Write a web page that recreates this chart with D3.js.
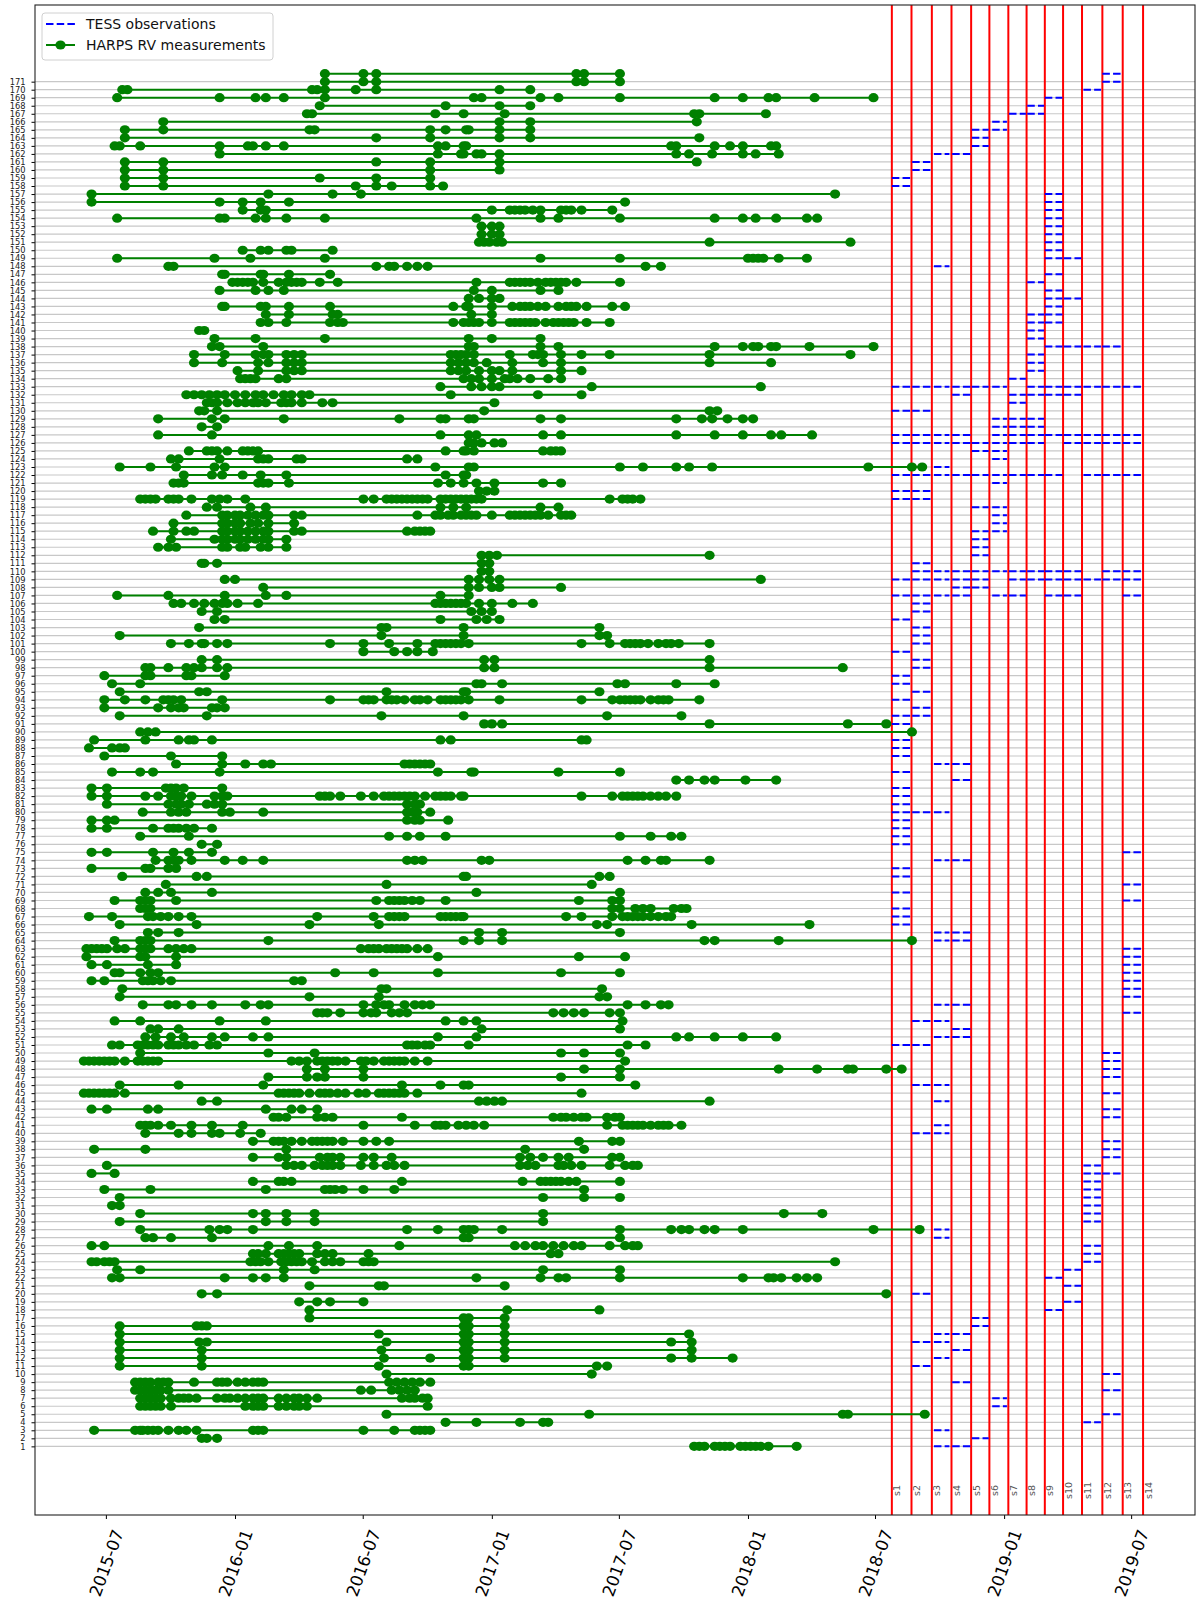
<!DOCTYPE html>
<html>
<head>
<meta charset="utf-8">
<script src="https://cdn.jsdelivr.net/npm/d3@7"></script>
<style>
  body { margin: 0; background: #fff; }
  svg { display: block; }
  text { font-family: "DejaVu Sans", sans-serif; }
</style>
</head>
<body>
<div id="chart"></div>
<script>
// HARPS RV epochs per target (index 0 = target 1), decimal year minus 2000
const rvEpochs = [
  [17.79,17.81,17.83,17.87,17.89,17.91,17.93,17.97,17.99,18.01,18.03,18.05,18.08,18.19],
  [15.87,15.89,15.93],
  [15.45,15.61,15.63,15.64,15.66,15.68,15.70,15.74,15.78,15.81,15.85,16.07,16.09,16.11,16.50,16.62,16.70,16.72,16.74,16.76],
  [16.82,16.94,17.11,17.20,17.22],
  [16.59,17.38,18.37,18.39,18.69],
  [15.63,15.65,15.67,15.69,15.71,15.75,16.04,16.07,16.09,16.11,16.17,16.20,16.23,16.25,16.28,16.75],
  [15.63,15.65,15.67,15.69,15.71,15.75,15.78,15.80,15.82,15.85,15.93,15.96,15.98,16.01,16.04,16.07,16.09,16.11,16.17,16.20,16.23,16.25,16.28,16.32,16.65,16.68,16.70,16.73,16.75],
  [15.61,15.63,15.65,15.67,15.69,15.71,15.74,16.49,16.53,16.61,16.64,16.67,16.70],
  [15.61,15.63,15.65,15.67,15.70,15.72,15.74,15.84,15.93,15.95,15.97,16.01,16.04,16.07,16.09,16.11,16.60,16.63,16.66,16.69,16.72,16.76],
  [16.59,17.39],
  [15.55,15.87,16.56,16.89,16.91,17.41,17.45],
  [15.55,15.87,16.58,16.76,16.89,16.91,17.05,17.70,17.78,17.94],
  [15.55,15.87,16.57,16.89,16.91,17.05,17.78],
  [15.55,15.86,15.89,16.59,16.89,16.91,17.05,17.70,17.78],
  [15.55,16.56,16.89,16.91,17.05,17.77],
  [15.55,15.85,15.87,15.89,16.89,16.91,17.05],
  [16.29,16.89,16.91,17.05],
  [16.29,17.06,17.42],
  [16.25,16.32,16.37,16.50],
  [15.87,15.93,18.54],
  [16.29,16.56,16.58,17.05],
  [15.52,15.55,15.96,16.07,16.12,16.19,16.94,17.19,17.26,17.29,17.50,17.98,18.08,18.10,18.13,18.19,18.23,18.27],
  [15.54,15.63,16.19,16.31,17.20,17.50],
  [15.44,15.46,15.49,15.51,15.53,16.06,16.08,16.10,16.13,16.18,16.20,16.22,16.24,16.26,16.30,16.35,16.38,16.41,16.50,16.52,16.54,18.34],
  [16.07,16.09,16.12,16.17,16.19,16.21,16.23,16.25,16.32,16.35,16.38,16.52,17.23,17.26],
  [15.44,15.49,16.13,16.21,16.32,16.64,17.09,17.13,17.17,17.20,17.24,17.28,17.32,17.35,17.46,17.52,17.55,17.57],
  [15.65,15.68,15.75,15.91,16.89,16.91,17.50],
  [15.63,15.90,15.94,15.97,16.07,16.67,16.79,16.89,16.91,16.93,17.04,17.50,17.70,17.74,17.77,17.83,17.87,17.98,18.49,18.67],
  [15.55,16.12,16.20,16.31,17.20],
  [15.63,16.07,16.12,16.20,16.31,17.20,18.14,18.29],
  [15.52,15.55],
  [15.55,17.20,17.36,17.50],
  [15.49,15.67,16.12,16.35,16.37,16.39,16.42,16.50,16.62,17.36],
  [16.07,16.17,16.19,16.22,16.65,17.12,17.19,17.21,17.23,17.25,17.27,17.30,17.33,17.50],
  [15.44,15.53],
  [15.50,16.20,16.23,16.26,16.31,16.34,16.36,16.38,16.41,16.49,16.54,16.59,16.62,16.66,17.11,17.14,17.17,17.26,17.28,17.31,17.35,17.46,17.52,17.55,17.57],
  [16.07,16.17,16.20,16.33,16.36,16.38,16.41,16.50,16.54,16.61,17.11,17.15,17.20,17.26,17.30,17.47,17.50],
  [15.45,15.65,16.20,17.13,17.36],
  [16.07,16.15,16.17,16.19,16.22,16.26,16.30,16.32,16.34,16.36,16.38,16.42,16.50,16.55,16.60,17.34,17.47,17.50],
  [15.65,15.78,15.83,15.91,15.94,16.02,16.10],
  [15.63,15.65,15.67,15.70,15.75,15.83,15.91,16.03,16.50,16.70,16.78,16.80,16.82,16.87,16.90,16.93,16.97,17.45,17.51,17.53,17.55,17.57,17.59,17.62,17.65,17.67,17.69,17.74],
  [16.15,16.17,16.20,16.32,16.35,16.38,16.65,17.24,17.27,17.29,17.32,17.35,17.37,17.45,17.48,17.50],
  [15.44,15.50,15.66,15.70,16.12,16.22,16.26,16.32],
  [15.87,15.93,16.95,16.98,17.01,17.04,17.85],
  [15.41,15.43,15.45,15.47,15.49,15.51,15.53,15.57,16.17,16.19,16.21,16.23,16.25,16.29,16.33,16.35,16.37,16.40,16.43,16.48,16.51,16.56,16.58,16.60,16.62,16.64,16.66,16.71,17.35],
  [15.55,15.78,16.11,16.65,16.80,16.89,16.91,17.56],
  [16.13,16.28,16.32,16.35,16.50,17.27,17.50],
  [16.28,16.35,16.50,17.36,17.50,18.12,18.27,18.39,18.41,18.54,18.60],
  [15.41,15.43,15.45,15.47,15.49,15.51,15.53,15.57,15.62,15.64,15.66,15.68,15.70,16.22,16.25,16.28,16.32,16.34,16.36,16.38,16.40,16.43,16.49,16.51,16.54,16.58,16.60,16.62,16.64,16.66,16.70,16.75,17.52],
  [15.63,16.13,16.31,17.27,17.36,17.50],
  [15.52,15.55,15.62,15.64,15.66,15.68,15.70,15.74,15.76,15.78,15.81,15.84,15.90,15.93,16.67,16.69,16.71,16.74,16.76,16.91,17.53,17.60],
  [15.65,15.69,15.75,15.80,15.91,15.96,16.07,16.13,16.79,16.94,17.72,17.77,17.87,17.98,18.11],
  [15.67,15.70,15.78,16.96,17.50],
  [15.53,15.63,15.94,16.12,16.82,16.89,16.94,17.51],
  [16.32,16.34,16.36,16.41,16.50,16.53,16.55,16.61,16.64,16.67,17.24,17.28,17.32,17.36,17.46,17.50],
  [15.64,15.74,15.77,15.83,15.91,16.04,16.10,16.13,16.50,16.55,16.58,16.60,16.66,16.70,16.73,16.76,17.53,17.60,17.66,17.69],
  [15.55,16.29,16.56,17.42,17.45],
  [15.56,16.57,16.59,17.43],
  [15.44,15.49,15.64,15.66,15.68,15.71,15.75,16.23,16.26],
  [15.53,15.55,15.63,15.67,15.70,16.39,16.54,16.79,17.27,17.50],
  [15.44,15.50,15.66,15.77],
  [15.42,15.63,15.65,15.77,16.79,17.34,17.52],
  [15.42,15.44,15.46,15.48,15.50,15.54,15.57,15.63,15.65,15.67,15.74,15.77,15.80,15.83,16.49,16.52,16.54,16.56,16.59,16.61,16.63,16.65,16.67,16.71,16.75],
  [15.53,15.63,15.65,15.67,16.13,16.89,16.95,17.04,17.83,17.87,18.12,18.64],
  [15.66,15.70,15.78,16.95,17.04,17.50],
  [15.55,15.85,16.29,16.56,17.41,17.45,17.78,18.24],
  [15.43,15.52,15.66,15.68,15.71,15.74,15.78,15.83,16.32,16.54,16.60,16.62,16.64,16.66,16.80,16.82,16.84,16.86,16.88,16.89,17.29,17.35,17.47,17.51,17.53,17.55,17.57,17.59,17.62,17.65,17.68,17.70],
  [15.63,15.65,15.67,17.47,17.50,17.56,17.59,17.62,17.71,17.74,17.76],
  [15.53,15.63,15.65,15.67,15.77,16.55,16.60,16.62,16.64,16.66,16.69,16.72,16.82,17.34,17.47,17.50],
  [15.65,15.70,15.75,15.91,16.94,17.50],
  [15.73,16.59,17.39],
  [15.56,15.85,15.89,16.89,16.90,17.42,17.46],
  [15.44,15.65,15.67,15.74,15.77],
  [15.69,15.74,15.76,15.78,15.83,15.96,16.03,16.11,16.67,16.70,16.73,16.96,16.99,17.53,17.60,17.66,17.68,17.85],
  [15.44,15.50,15.68,15.76,15.82,15.91],
  [15.87,15.93],
  [15.63,15.82,16.60,16.67,16.72,16.82,17.50,17.62,17.70,17.74],
  [15.44,15.50,15.68,15.74,15.76,15.78,15.81,15.84,15.91],
  [15.44,15.50,15.53,16.67,16.70,16.72,16.83],
  [15.64,15.75,15.78,15.81,15.95,15.98,16.11,16.67,16.69,16.71,16.76],
  [15.50,15.74,15.77,15.79,15.82,15.89,15.92,15.95,16.67,16.70,16.72],
  [15.44,15.50,15.65,15.70,15.75,15.77,15.79,15.83,15.92,15.95,15.97,16.33,16.35,16.37,16.41,16.49,16.54,16.58,16.60,16.62,16.64,16.66,16.68,16.70,16.74,16.78,16.80,16.82,16.84,16.88,16.89,17.35,17.47,17.51,17.53,17.55,17.57,17.59,17.62,17.65,17.68,17.72],
  [15.44,15.50,15.73,15.75,15.77,15.80,15.95],
  [17.72,17.77,17.83,17.87,17.99,18.11],
  [15.52,15.63,15.68,15.94,16.79,16.92,16.93,17.26,17.50],
  [15.77,15.95,16.04,16.11,16.14,16.66,16.68,16.70,16.72,16.74,16.76],
  [15.49,15.75,15.95],
  [15.43,15.52,15.55,15.57],
  [15.45,15.65,15.78,15.82,15.84,15.91,16.80,16.84,17.35,17.37],
  [15.63,15.66,15.69,18.64],
  [16.97,17.00,17.04,17.85,18.39,18.54],
  [15.55,15.89,16.57,16.89,17.45,17.74],
  [15.49,15.70,15.75,15.78,15.80,15.91,15.93,15.96],
  [15.49,15.57,15.65,15.72,15.74,15.76,15.79,15.95,16.37,16.50,16.52,16.54,16.59,16.61,16.63,16.66,16.70,16.72,16.75,16.80,16.82,16.84,16.86,16.88,16.91,17.03,17.35,17.47,17.50,17.52,17.54,17.56,17.58,17.62,17.65,17.67,17.69,17.81],
  [15.55,15.86,15.89,16.59,16.89,16.90,17.42],
  [15.52,15.63,16.94,16.96,17.04,17.49,17.52,17.72,17.87],
  [15.49,15.65,15.67,15.81,15.83,15.96],
  [15.65,15.67,15.74,15.81,15.84,15.87,15.93,15.97,16.97,17.01,17.85,18.37],
  [15.87,15.93,16.97,17.01,17.85],
  [16.50,16.62,16.67,16.71,16.77],
  [15.75,15.82,15.87,15.88,15.93,15.97,16.37,16.50,16.60,16.71,16.78,16.80,16.82,16.84,16.86,16.88,16.91,17.35,17.46,17.52,17.54,17.56,17.58,17.61,17.65,17.68,17.70,17.73,17.85],
  [15.55,16.57,16.89,17.42,17.45],
  [15.86,16.57,16.59,16.89,17.42],
  [15.92,15.96,16.80,16.94,16.98,17.03],
  [15.87,15.93,16.92,16.96,17.00],
  [15.76,15.79,15.84,15.88,15.92,15.95,15.97,16.01,16.09,16.78,16.80,16.82,16.84,16.86,16.88,16.90,16.95,17.00,17.08,17.16],
  [15.54,15.74,15.96,16.12,16.20,16.80,16.91],
  [16.11,16.91,16.95,17.00,17.03,17.27],
  [15.96,16.00,16.91,16.95,16.99,17.03,18.05],
  [16.96,16.99],
  [15.87,15.88,15.93,16.96,16.99],
  [16.96,16.99,17.02,17.85],
  [15.70,15.74,15.77,15.95,15.97,16.02,16.04,16.10,16.13,16.20],
  [15.75,15.92,15.95,15.97,16.00,16.02,16.05,16.08,16.11,16.13,16.20],
  [15.68,15.76,15.81,15.84,15.95,15.97,16.00,16.02,16.05,16.08,16.11,16.13,16.23,16.26,16.67,16.70,16.72,16.74,16.76],
  [15.76,15.95,15.97,16.00,16.02,16.06,16.09,16.13,16.23],
  [15.81,15.95,15.97,16.00,16.02,16.05,16.08,16.11,16.13,16.23,16.26,16.71,16.78,16.80,16.83,16.85,16.88,16.90,16.92,16.94,17.00,17.07,17.09,17.11,17.13,17.15,17.17,17.19,17.22,17.27,17.29,17.31],
  [15.89,15.93,16.06,16.12,16.80,16.85,16.90,17.19,17.26],
  [15.63,15.65,15.67,15.69,15.74,15.76,15.78,15.83,15.91,15.94,15.97,16.04,16.50,16.54,16.59,16.61,16.63,16.65,16.67,16.69,16.71,16.73,16.75,16.80,16.82,16.84,16.86,16.88,16.90,16.92,16.94,16.96,17.46,17.51,17.53,17.55,17.58],
  [16.95,16.98,17.01],
  [15.76,15.78,15.80,16.09,16.11,16.13,16.21,16.79,16.84,16.89,16.94,17.01,17.20,17.27],
  [15.80,15.91,15.95,16.03,16.10,16.20,16.82,16.89,16.90],
  [15.55,15.67,15.77,15.92,15.96,16.78,16.91,16.93,17.50,17.59,17.72,17.77,17.86,18.47,18.64,18.68],
  [15.75,15.78,15.94,16.09,16.11,16.13,16.24,16.26,16.67,16.71],
  [15.82,15.89,15.91,15.93,15.97,16.03,16.05,16.07,16.09,16.82,16.89,16.90,16.93,17.20,17.23,17.25,17.27],
  [16.91,16.93,16.96,17.01,17.04],
  [15.70,15.91,16.80,16.91,16.94,17.20,17.27,17.72,17.87,17.98,18.09,18.13,18.25],
  [15.87,15.93],
  [15.70,15.91,15.96,16.19,16.64,16.80,16.82,16.91,16.93,17.19,17.27,17.72,17.82,17.86,17.92,17.98,18.02],
  [15.86,15.88,15.93,16.97,17.85,17.88],
  [15.89,15.91,15.93,15.97,16.01,16.04,16.07,16.09,16.12,16.18,16.20,16.22,16.26,16.34,16.38,17.01],
  [15.81,15.84,15.87,15.90,15.93,15.96,16.00,16.04,16.08,16.11,16.15,16.19,16.22,16.26,16.29,16.84,17.18,17.35],
  [16.80,16.92,16.96,17.00,17.03,17.39,18.05],
  [16.02,16.04,16.06,16.08,16.17,16.20,16.89,16.92,16.95,17.00,17.05,17.07,17.10,17.15,17.22,17.27],
  [16.01,16.09,16.20,16.23,16.26,16.84,16.87,16.90,16.95,17.00,17.03,17.08,17.27,17.35],
  [15.84,15.95,16.09,16.13,16.20,16.23,16.26,16.84,16.87,16.90,16.93,16.98,17.08,17.20,17.27,17.85,18.09],
  [15.84,15.96,16.08,16.11,16.13,16.20,16.23,16.26,16.84,16.86,16.88,16.90,16.93,17.07,17.16,17.18,17.20,17.27,17.35,17.46,17.85,18.40],
  [15.91,15.94,16.11,16.91,16.93,17.19,17.26,17.87,17.98,18.02,18.04,18.09,18.11,18.24,18.49],
  [15.92,16.08,16.35,16.91,17.00,17.19],
  [15.86,15.88],
  [16.10,16.13,16.20,16.37,16.40,16.42,16.85,16.89,16.91,16.93,16.95,17.00,17.07,17.09,17.11,17.13,17.15,17.17,17.21,17.24,17.26,17.28,17.30,17.32,17.37,17.46],
  [16.12,16.21,16.38,16.40,16.92,17.00],
  [15.95,15.96,16.10,16.12,16.21,16.37,16.85,16.90,16.91,17.00,17.08,17.11,17.13,17.15,17.18,17.21,17.26,17.29,17.31,17.33,17.37,17.47,17.52],
  [16.91,16.95,17.00,17.03],
  [15.94,16.08,16.13,16.19,16.93,17.00,17.19,17.26],
  [15.99,16.01,16.03,16.05,16.07,16.11,16.17,16.20,16.22,16.24,16.26,16.33,16.40,16.94,17.07,17.09,17.11,17.13,17.15,17.18,17.21,17.23,17.25,17.27,17.29,17.33,17.50],
  [15.95,15.96,16.10,16.11,16.21,16.37],
  [15.74,15.76,16.55,16.60,16.62,16.67,16.71,16.75,17.60,17.66],
  [15.54,15.92,16.06,16.35,17.19,17.50,18.00,18.02,18.04,18.06,18.12,18.23],
  [16.03,16.10,16.13,16.20,16.22,16.38],
  [16.95,16.97,16.99,17.02,17.04,17.85,18.40],
  [16.96,17.00,17.03],
  [16.96,17.00,17.03],
  [15.54,15.94,15.96,16.08,16.12,16.20,16.35,16.94,17.19,17.26,17.50,17.87,17.98,18.03,18.11,18.23,18.27],
  [16.03,16.10,16.12,17.00,17.07,17.09,17.11,17.13,17.16,17.19,17.27,17.29,17.31,17.35,17.47],
  [15.44,15.94,16.03,16.10,16.21,17.52],
  [15.44,16.13,16.38,16.49,18.34],
  [15.57,15.72,16.47,16.55,16.61,16.76,16.81],
  [15.57,15.72,16.33,16.55,16.76],
  [15.57,15.72,16.76,17.03],
  [15.57,15.72,16.55,16.76,17.03,17.80],
  [15.94,16.79,16.88,16.89,16.94,16.96,17.03,17.72,17.77,17.86,17.98,18.03,18.12],
  [15.53,15.55,15.63,15.94,16.05,16.07,16.12,16.19,16.79,16.82,16.89,16.90,17.70,17.72,17.87,17.93,17.98,18.09,18.11],
  [15.57,16.55,16.76,17.03,17.15,17.81],
  [15.57,15.72,16.29,16.31,16.76,16.82,16.90,16.91,17.03,17.15],
  [15.72,17.03,17.15,17.80],
  [16.28,16.30,16.78,16.89,17.05,17.79,17.81,18.07],
  [16.33,16.82,17.03,17.15],
  [15.54,15.94,16.08,16.12,16.19,16.35,16.93,16.96,17.19,17.26,17.50,17.87,17.98,18.08,18.11,18.26,18.49],
  [15.56,15.58,16.30,16.32,16.35,16.47,16.55,17.03,17.15],
  [16.35,16.50,16.55,17.33,17.36,17.50],
  [16.35,16.50,16.55,17.33,17.36,17.50]
];

// TESS sectors in which each target (index 0 = target 1) is observed
const tessSectors = [
  [3,4],[5],[3],[11],[12],[6],[6],[12],[4],[12],
  [2],[3],[4],[2,3],[3,4],[5],[5],[9],[10],[2],
  [10],[9],[10],[11],[11],[11],[3],[3],[11],[11],
  [11],[11],[11],[11],[11,12],[11],[12],[12],[12],[2,3],
  [3],[12],[12],[3],[12],[2,3],[12],[12],[12],[12],
  [1,2],[3,4],[4],[2,3],[13],[3,4],[13],[13],[13],[13],
  [13],[13],[13],[3,4],[3,4],[1],[1],[1],[13],[1],
  [13],[1],[1],[3,4],[13],[1],[1],[1],[1],[1,2,3],
  [1],[1],[1],[4],[1],[3,4],[1],[1],[1],[],
  [1],[1,2],[2],[1],[2],[1],[1],[2],[2],[1],
  [2],[2],[2],[1],[2],[2],[1,2,3,4,6,7,9,10,13],[4,5],[1,2,3,4,5,7,8,9,10,11,12,13],[2,3,4,5,6,7,8,9,10,12,13],
  [2],[5],[5],[5],[5,6],[6],[6],[5,6],[1,2],[1,2],
  [6],[1,2,3,4,5,6,7,8,9,11,12,13],[3],[6],[5,6],[1,2,3,4,5,6,7,8,10,11,12,13],[1,2,3,4,6,7,8,9,10,11,12,13],[6,7,8],[6,7,8],[1,2],
  [7],[4,7,8,9,10],[1,2,3,4,5,6,8,9,10,11,12,13],[7],[8],[8],[8],[9,10,11,12],[8],[8],
  [8,9],[8,9],[9],[9,10],[9],[8],[9],[3],[9,10],[9],
  [9],[9],[9],[9],[9],[9],[9],[1],[1],[2],
  [2],[3,4],[5],[5],[5,6],[6],[7,8],[8],[9],[11],
  [12],[12]
];

// TESS sectors: names, start dates (red lines), observing windows
const sectorNames = ["s1","s2","s3","s4","s5","s6","s7","s8","s9","s10","s11","s12","s13","s14"];
const sectorStarts = ["2018-07-25","2018-08-22","2018-09-20","2018-10-18","2018-11-15","2018-12-11","2019-01-07",
  "2019-02-02","2019-02-28","2019-03-26","2019-04-22","2019-05-21","2019-06-19","2019-07-18"];
const obsStart = ["2018-07-25","2018-08-23","2018-09-23","2018-10-19","2018-11-16","2018-12-15","2019-01-08",
  "2019-02-03","2019-02-28","2019-03-27","2019-04-24","2019-05-21","2019-06-19"];
const obsEnd = ["2018-08-21","2018-09-19","2018-10-15","2018-11-14","2018-12-10","2019-01-05","2019-02-01",
  "2019-02-27","2019-03-25","2019-04-21","2019-05-19","2019-06-17","2019-07-16"];

const xTickLabels = ["2015-07","2016-01","2016-07","2017-01","2017-07","2018-01","2018-07","2019-01","2019-07"];
const yTickLabels = d3.range(1, 172);

// ---------------------------------------------------------------
const parseDay = d3.utcParse("%Y-%m-%d");
const parseMonth = d3.utcParse("%Y-%m");
const toDate = v => {
  const yr = 2000 + Math.floor(v);
  const t0 = Date.UTC(yr, 0, 1), t1 = Date.UTC(yr + 1, 0, 1);
  return new Date(t0 + (v - Math.floor(v)) * (t1 - t0));
};

const plotL = 35, plotR = 1195, plotT = 5, plotB = 1515;

const x = d3.scaleUtc()
  .domain([parseDay("2015-03-22"), parseDay("2019-09-30")])
  .range([plotL, plotR]);
const y = d3.scaleLinear()
  .domain([-7.55, 180.55])
  .range([plotB, plotT]);

const svg = d3.select("#chart").append("svg")
  .attr("width", 1200)
  .attr("height", 1600);

// horizontal grid, one line per target
svg.append("g").selectAll("line")
  .data(yTickLabels)
  .join("line")
  .attr("x1", plotL).attr("x2", plotR)
  .attr("y1", d => y(d)).attr("y2", d => y(d))
  .attr("stroke", "#c8c8c8")
  .attr("stroke-width", 1.2);

// sector start lines
svg.append("g").selectAll("line")
  .data(sectorStarts)
  .join("line")
  .attr("x1", d => x(parseDay(d))).attr("x2", d => x(parseDay(d)))
  .attr("y1", plotT).attr("y2", plotB)
  .attr("stroke", "#ff0000")
  .attr("stroke-width", 2);

// sector labels
svg.append("g").selectAll("text")
  .data(sectorNames)
  .join("text")
  .attr("transform", (d, i) => `translate(${x(parseDay(sectorStarts[i])) + 5},${y(-4.5)}) rotate(-90)`)
  .attr("text-anchor", "middle")
  .attr("dominant-baseline", "central")
  .attr("font-size", 9.5)
  .attr("fill", "#555")
  .text(d => d);

// TESS observation windows
const tessSegs = [];
tessSectors.forEach((list, i) => list.forEach(s => tessSegs.push({ row: i + 1, s })));
svg.append("g").selectAll("line")
  .data(tessSegs)
  .join("line")
  .attr("x1", d => x(parseDay(obsStart[d.s - 1])))
  .attr("x2", d => x(parseDay(obsEnd[d.s - 1])))
  .attr("y1", d => y(d.row)).attr("y2", d => y(d.row))
  .attr("stroke", "#0000ff")
  .attr("stroke-width", 2)
  .attr("stroke-dasharray", "7.5,3.2");

// HARPS RV time series
const rv = svg.append("g");
rv.selectAll("line")
  .data(rvEpochs)
  .join("line")
  .attr("x1", d => x(toDate(d3.min(d))))
  .attr("x2", d => x(toDate(d3.max(d))))
  .attr("y1", (d, i) => y(i + 1)).attr("y2", (d, i) => y(i + 1))
  .attr("stroke", "#008000")
  .attr("stroke-width", 2);

const pts = [];
rvEpochs.forEach((list, i) => list.forEach(v => pts.push({ row: i + 1, v })));
rv.selectAll("ellipse")
  .data(pts)
  .join("ellipse")
  .attr("cx", d => x(toDate(d.v)))
  .attr("cy", d => y(d.row))
  .attr("rx", 5.1)
  .attr("ry", 4.6)
  .attr("fill", "#008000");

// axes
const xAxis = d3.axisBottom(x)
  .tickValues(xTickLabels.map(parseMonth))
  .tickFormat(d3.utcFormat("%Y-%m"))
  .tickSize(4);
const gx = svg.append("g")
  .attr("transform", `translate(0,${plotB})`)
  .call(xAxis);
gx.select(".domain").remove();
gx.selectAll("text")
  .attr("y", 0).attr("dy", 0)
  .attr("transform", "translate(0,48) rotate(-70)")
  .attr("text-anchor", "middle")
  .attr("dominant-baseline", "central")
  .attr("font-size", 16.7)
  .attr("fill", "#000");

const yAxis = d3.axisLeft(y)
  .tickValues(yTickLabels)
  .tickFormat(d => d)
  .tickSize(3.5)
  .tickPadding(6);
const gy = svg.append("g")
  .attr("transform", `translate(${plotL},0)`)
  .call(yAxis);
gy.select(".domain").remove();
gy.selectAll("text")
  .attr("font-size", 8.3)
  .attr("fill", "#222");

// frame
svg.append("rect")
  .attr("x", plotL).attr("y", plotT)
  .attr("width", plotR - plotL).attr("height", plotB - plotT)
  .attr("fill", "none")
  .attr("stroke", "#222")
  .attr("stroke-width", 1.1);

// legend
const lg = svg.append("g").attr("transform", "translate(42,13)");
lg.append("rect")
  .attr("width", 231).attr("height", 47).attr("rx", 3)
  .attr("fill", "#fff").attr("fill-opacity", 0.85)
  .attr("stroke", "#d0d0d0");
lg.append("line")
  .attr("x1", 4).attr("x2", 33).attr("y1", 11).attr("y2", 11)
  .attr("stroke", "#0000ff").attr("stroke-width", 2)
  .attr("stroke-dasharray", "7.5,3.2");
lg.append("line")
  .attr("x1", 4).attr("x2", 33).attr("y1", 32).attr("y2", 32)
  .attr("stroke", "#008000").attr("stroke-width", 2);
lg.append("ellipse")
  .attr("cx", 18.5).attr("cy", 32).attr("rx", 5.1).attr("ry", 4.6)
  .attr("fill", "#008000");
lg.selectAll("text.lab")
  .data(["TESS observations", "HARPS RV measurements"])
  .join("text")
  .attr("class", "lab")
  .attr("x", 44)
  .attr("y", (d, i) => 11 + i * 21)
  .attr("dominant-baseline", "central")
  .attr("font-size", 14)
  .attr("fill", "#111")
  .text(d => d);
</script>
</body>
</html>
